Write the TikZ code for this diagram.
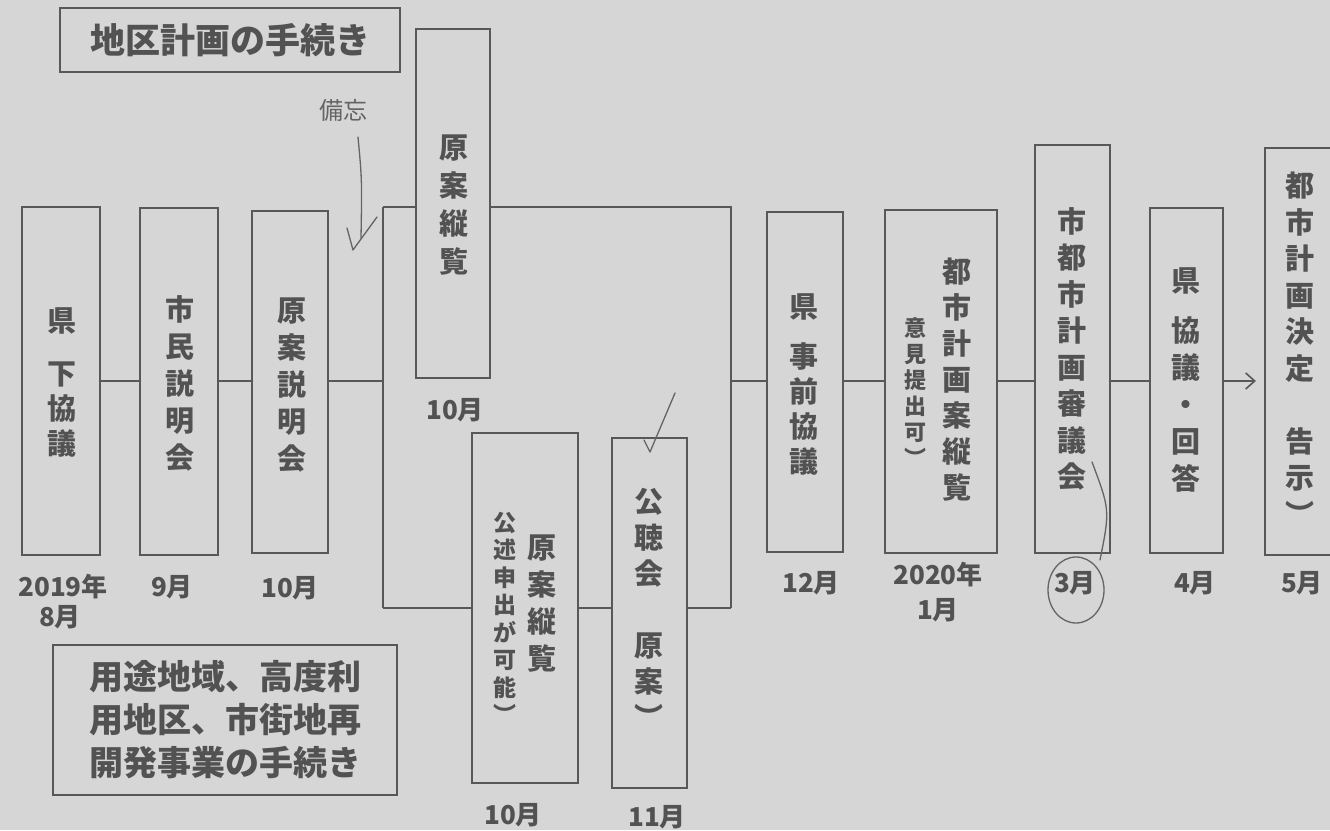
\documentclass[tikz,border=0pt]{standalone}
\usepackage{fontspec}
\newfontfamily\jp{Noto Sans CJK JP}
\usetikzlibrary{arrows.meta}
\definecolor{bg}{RGB}{214,214,214}
\definecolor{ln}{RGB}{88,88,88}
\definecolor{ink}{RGB}{82,82,82}
\definecolor{hand}{RGB}{100,100,100}
\tikzset{
  box/.style={draw=ln, line width=2.2pt, inner sep=0pt},
  conn/.style={draw=ln, line width=2.2pt},
  vt/.style={anchor=north, align=center, inner sep=0pt, text=ink},
  datelbl/.style={inner sep=0pt, text=ink, font={\jp\bfseries\fontsize{26}{29}\selectfont}, align=center},
  handline/.style={draw=hand, line width=1.3pt, line cap=round, line join=round},
}
\begin{document}
\begin{tikzpicture}[x=1pt,y=-1pt]
\useasboundingbox (0,0) rectangle (1330,830);
\clip (0,0) rectangle (1330,830);
\fill[bg] (0,0) rectangle (1330,830);

% titles
\node[box, line width=2.8pt, minimum width=340pt, minimum height=64pt, text=ink,
  font={\jp\bfseries\fontsize{35}{40}\selectfont}] (title) at (230,40) {地区計画の手続き};
\node[box, line width=2.8pt, minimum width=344pt, minimum height=150pt, text=ink, align=left,
  font={\jp\bfseries\fontsize{34}{43}\selectfont}] (other) at (225,720)
  {用途地域、高度利\\用地区、市街地再\\開発事業の手続き};

% boxes
\node[box, minimum width=78pt, minimum height=348pt] (b1) at (61,381) {};
\node[box, minimum width=78pt, minimum height=347pt] (b2) at (179,381.5) {};
\node[box, minimum width=76pt, minimum height=342pt] (b3) at (290,382) {};
\node[box, minimum width=74pt, minimum height=349pt] (up) at (453,203.5) {};
\node[box, minimum width=106pt, minimum height=350pt] (lo1) at (525,608) {};
\node[box, minimum width=75pt, minimum height=350pt] (lo2) at (649.5,613) {};
\node[box, minimum width=76pt, minimum height=340pt] (k1) at (805,382) {};
\node[box, minimum width=112pt, minimum height=343pt] (k2) at (941,381.5) {};
\node[box, minimum width=75pt, minimum height=408pt] (k3) at (1072.5,349) {};
\node[box, minimum width=73pt, minimum height=345pt] (k4) at (1186.5,380.5) {};
\node[box, minimum width=80pt, minimum height=407pt] (k5) at (1305,351.5) {};

% vertical texts
\node[vt, font={\jp\bfseries\fontsize{29}{35}\selectfont}] (t1) at (62,307) {県\\[18pt]下\\協\\議};
\node[vt, font={\jp\bfseries\fontsize{29}{37}\selectfont}] (t2) at (180,295) {市\\民\\説\\明\\会};
\node[vt, font={\jp\bfseries\fontsize{29}{37}\selectfont}] (t3) at (292,298) {原\\案\\説\\明\\会};
\node[vt, font={\jp\bfseries\fontsize{29}{38}\selectfont}] (tu) at (454,135) {原\\案\\縦\\覧};
\node[vt, font={\jp\bfseries\fontsize{29}{37}\selectfont}] (tl1) at (542,535) {原\\案\\縦\\覧};
\node[vt, font={\jp\bfseries\fontsize{23}{27.5}\selectfont}] (tl1s) at (505,512) {公\\述\\申\\出\\が\\可\\能\\︶};
\node[vt, font={\jp\bfseries\fontsize{29}{36}\selectfont}] (tl2) at (649,488) {公\\聴\\会\\\mbox{}\\原\\案\\︶};
\node[vt, font={\jp\bfseries\fontsize{29}{35}\selectfont}] (tk1) at (804,293) {県\\[15pt]事\\前\\協\\議};
\node[vt, font={\jp\bfseries\fontsize{29}{36}\selectfont}] (tk2) at (957,258) {都\\市\\計\\画\\案\\縦\\覧};
\node[vt, font={\jp\bfseries\fontsize{22}{26}\selectfont}] (tk2s) at (915,317) {意\\見\\提\\出\\可\\︶};
\node[vt, font={\jp\bfseries\fontsize{29}{36.5}\selectfont}] (tk3) at (1072,207) {市\\都\\市\\計\\画\\審\\議\\会};
\node[vt, font={\jp\bfseries\fontsize{29}{37}\selectfont}] (tk4) at (1186,267) {県\\[13pt]協\\議\\・\\回\\答};
\node[vt, font={\jp\bfseries\fontsize{29}{36.5}\selectfont}] (tk5) at (1300,172) {都\\市\\計\\画\\決\\定\\\mbox{}\\告\\示\\︶};

% date labels
\node[datelbl] (d1) at (63,587) {2019年};
\node[datelbl] (d1b) at (60,617) {8月};
\node[datelbl] (d2) at (172,587) {9月};
\node[datelbl] (d3) at (290,588) {10月};
\node[datelbl] (du) at (455,410) {10月};
\node[datelbl] (dl1) at (513,815) {10月};
\node[datelbl] (dl2) at (657,817) {11月};
\node[datelbl] (dk1) at (811,583) {12月};
\node[datelbl] (dk2) at (938,575) {2020年};
\node[datelbl] (dk2b) at (938,610) {1月};
\node[datelbl] (dk3) at (1075,583) {3月};
\node[datelbl] (dk4) at (1195,583) {4月};
\node[datelbl] (dk5) at (1302,583) {5月};

% connector coordinates
\coordinate (mainy) at (0,381);
\coordinate (split) at (383,381);
\coordinate (splittop) at (383,207);
\coordinate (splitbot) at (383,608);
\coordinate (join) at (731,381);
\coordinate (jointop) at (731,207);
\coordinate (joinbot) at (731,608);

\draw[conn] (b1.east |- mainy) -- (b2.west |- mainy);
\draw[conn] (b2.east |- mainy) -- (b3.west |- mainy);
\draw[conn] (b3.east |- split) -- (split);
\draw[conn] (splittop) -- (splitbot);
\draw[conn] (splittop) -- (up.west |- splittop);
\draw[conn] (up.east |- jointop) -- (jointop) -- (joinbot);
\draw[conn] (splitbot) -- (lo1.west |- splitbot);
\draw[conn] (lo1.east |- splitbot) -- (lo2.west |- splitbot);
\draw[conn] (lo2.east |- joinbot) -- (joinbot);
\draw[conn] (join) -- (k1.west |- join);
\draw[conn] (k1.east |- mainy) -- (k2.west |- mainy);
\draw[conn] (k2.east |- mainy) -- (k3.west |- mainy);
\draw[conn] (k3.east |- mainy) -- (k4.west |- mainy);
\draw[conn, -{Straight Barb[length=9pt,width=16pt,line width=1.6pt]}, shorten >=8pt] (k4.east |- mainy) -- (k5.west |- mainy);

% handwritten marks
\node[text=hand, inner sep=1pt, font={\jp\fontsize{24}{26}\selectfont}] (memo) at (343,110) {備忘};
\draw[handline] (358,137) .. controls (362,180) .. (361,238);
\draw[handline] (347,228) -- (353,250) -- (377,217);
\draw[handline] (644,440) -- (650,452) -- (675,393);
\draw[handline] (1076,590) ellipse [x radius=28pt, y radius=33pt];
\draw[handline] (1092,462) .. controls (1110,510) .. (1100,560);
\end{tikzpicture}
\end{document}
